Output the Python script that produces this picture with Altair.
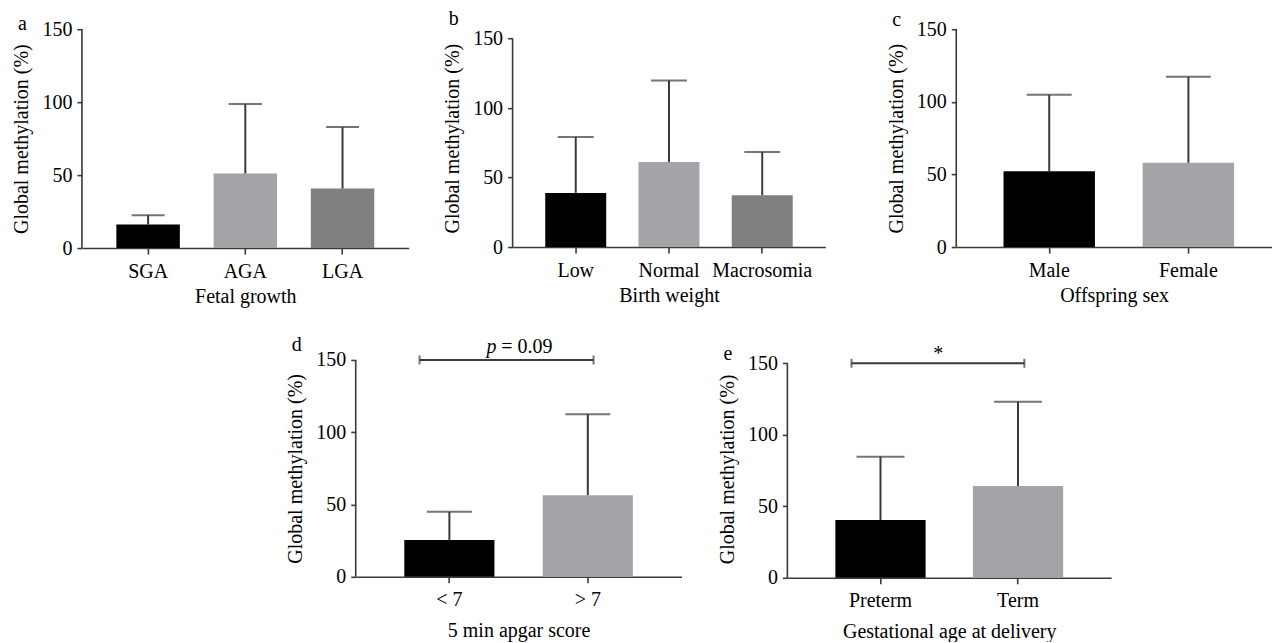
import altair as alt
import pandas as pd

FONT = "Liberation Serif"
BLACK = "#000000"
LIGHT = "#A3A3A8"
DARK = "#808080"
AXC = "#3a3a3a"

# ---------------- data ----------------
y_ticks = [0, 50, 100, 150]
y_title = "Global methylation (%)"

a_cats = ["SGA", "AGA", "LGA"]
a_mean = [16.1, 51.1, 40.8]
a_upper = [22.5, 98.7, 82.9]
a_colors = [BLACK, LIGHT, DARK]

b_cats = ["Low", "Normal", "Macrosomia"]
b_mean = [39.0, 61.2, 37.3]
b_upper = [79.2, 119.9, 68.4]
b_colors = [BLACK, LIGHT, DARK]

c_cats = ["Male", "Female"]
c_mean = [52.2, 58.0]
c_upper = [104.9, 117.3]
c_colors = [BLACK, LIGHT]

d_cats = ["< 7", "> 7"]
d_mean = [25.4, 56.5]
d_upper = [45.0, 112.4]
d_colors = [BLACK, LIGHT]

e_cats = ["Preterm", "Term"]
e_mean = [40.4, 64.2]
e_upper = [84.7, 123.1]
e_colors = [BLACK, LIGHT]

# significance annotations (relative positions across the panel, y in data units)
d_bracket = [0.196, 0.730]
d_bracket_y = [150]
d_text_x = [0.432, 0.447]
d_text = ["p", "= 0.09"]
d_text_style = ["italic", "normal"]
d_text_align = ["right", "left"]

e_bracket = [0.198, 0.732]
e_bracket_y = [150]
e_text_x = [0.466]
e_text = ["*"]


def panel(letter, cats, mean, upper, colors, xtitle, width, height, ymax,
          pi, po, align, cap, title_dy, xtitle_pad, annot=None):
    df = pd.DataFrame({"cat": cats, "mean": mean, "upper": upper, "color": colors})
    xscale = alt.Scale(domain=cats, paddingInner=pi, paddingOuter=po, align=align)
    yscale = alt.Scale(domain=[0, ymax], nice=False, zero=True)
    base = alt.Chart(df)
    bars = base.mark_bar().encode(
        x=alt.X("cat:N", scale=xscale, sort=cats, title=xtitle,
                axis=alt.Axis(labelAngle=0, tickSize=6, labelPadding=7,
                              titlePadding=xtitle_pad, domainWidth=1.6)),
        y=alt.Y("mean:Q", scale=yscale, title=y_title,
                axis=alt.Axis(values=y_ticks, domain=False, tickSize=5,
                              labelPadding=5, titlePadding=10)),
        color=alt.Color("color:N", scale=None),
    )
    err = base.mark_rule(strokeWidth=2, color=AXC).encode(
        x=alt.X("cat:N", scale=xscale, sort=cats),
        y=alt.Y("mean:Q", scale=yscale),
        y2="upper:Q",
    )
    caps = base.mark_tick(size=cap, thickness=2, color=AXC).encode(
        x=alt.X("cat:N", scale=xscale, sort=cats),
        y=alt.Y("upper:Q", scale=yscale),
    )
    yline = alt.Chart(pd.DataFrame({"lo": [0], "hi": [150]})).mark_rule(
        strokeWidth=1.6, color=AXC
    ).encode(x=alt.value(0), y=alt.Y("lo:Q", scale=yscale), y2="hi:Q")
    inner = alt.layer(bars, err, caps, yline)
    if annot is not None:
        br, bry, tx, tt, style, talign, tdy = annot
        ax = alt.Scale(domain=[0, 1], nice=False, zero=False)
        adf = pd.DataFrame({"x0": [br[0]], "x1": [br[1]], "y": bry})
        brk = alt.Chart(adf).mark_rule(strokeWidth=2, color=AXC).encode(
            x=alt.X("x0:Q", scale=ax, axis=None), x2="x1:Q",
            y=alt.Y("y:Q", scale=yscale))
        edf = pd.DataFrame({"x": br, "y": bry * 2})
        ends = alt.Chart(edf).mark_tick(orient="vertical", size=9, thickness=2,
                                        color=AXC).encode(
            x=alt.X("x:Q", scale=ax, axis=None),
            y=alt.Y("y:Q", scale=yscale))
        texts = []
        for i in range(len(tt)):
            tdf = pd.DataFrame({"x": [tx[i]], "y": bry, "t": [tt[i]]})
            texts.append(alt.Chart(tdf).mark_text(
                font=FONT, fontSize=20, fontStyle=style[i], align=talign[i],
                baseline="alphabetic", dy=tdy, color="black").encode(
                x=alt.X("x:Q", scale=ax, axis=None),
                y=alt.Y("y:Q", scale=yscale),
                text="t:N"))
        annot_layer = alt.layer(brk, ends, *texts)
        chart = alt.layer(inner, annot_layer).resolve_scale(x="independent")
    else:
        chart = inner
    return chart.properties(
        width=width, height=height,
        title=alt.TitleParams(letter, anchor="start", frame="bounds",
                              fontSize=20, font=FONT, fontWeight="normal",
                              color="black", dy=title_dy, dx=6),
    )


pa = panel("a", a_cats, a_mean, a_upper, a_colors, "Fetal growth",
           327, 219, 150, 0.347, 0.354, 0.5, 33, 19, 5)
pb = panel("b", b_cats, b_mean, b_upper, b_colors, "Birth weight",
           313, 218, 156.8, 0.346, 0.35, 0.5, 36, 4, 5)
pc = panel("c", c_cats, c_mean, c_upper, c_colors, "Offspring sex",
           316, 218, 150, 0.343, 0.306, 0.555, 45, 15, 5)
pd_ = panel("d", d_cats, d_mean, d_upper, d_colors, "5 min apgar score",
            326, 217, 150, 0.349, 0.351, 0.5, 45, 22, 11,
            annot=(d_bracket, d_bracket_y, d_text_x, d_text, d_text_style,
                   d_text_align, -7))
pe = panel("e", e_cats, e_mean, e_upper, e_colors, "Gestational age at delivery",
           324, 218, 152.3, 0.344, 0.349, 0.5, 48, 24, 11,
           annot=(e_bracket, e_bracket_y, e_text_x, e_text, ["normal"],
                  ["center"], -3))

spacer = alt.Chart(pd.DataFrame({"v": [0]})).mark_point(opacity=0, size=0).encode(
    x=alt.X("v:Q", axis=None), y=alt.Y("v:Q", axis=None)
).properties(width=168, height=10)

top = alt.hconcat(alt.hconcat(pa, pb, spacing=34), pc, spacing=61)
bottom = alt.hconcat(spacer, pd_, pe, spacing=36)

chart = alt.vconcat(top, bottom, spacing=29).properties(
    padding={"left": 4, "top": 0, "right": 0, "bottom": 0}
).configure_view(stroke=None).configure_axis(
    labelFont=FONT, titleFont=FONT, labelFontSize=20, titleFontSize=20,
    titleFontWeight="normal", labelColor="black", titleColor="black",
    domainColor=AXC, tickColor=AXC, tickWidth=1.6, grid=False,
)

chart.save("out.html", embed_options={"renderer": "svg", "actions": False})
